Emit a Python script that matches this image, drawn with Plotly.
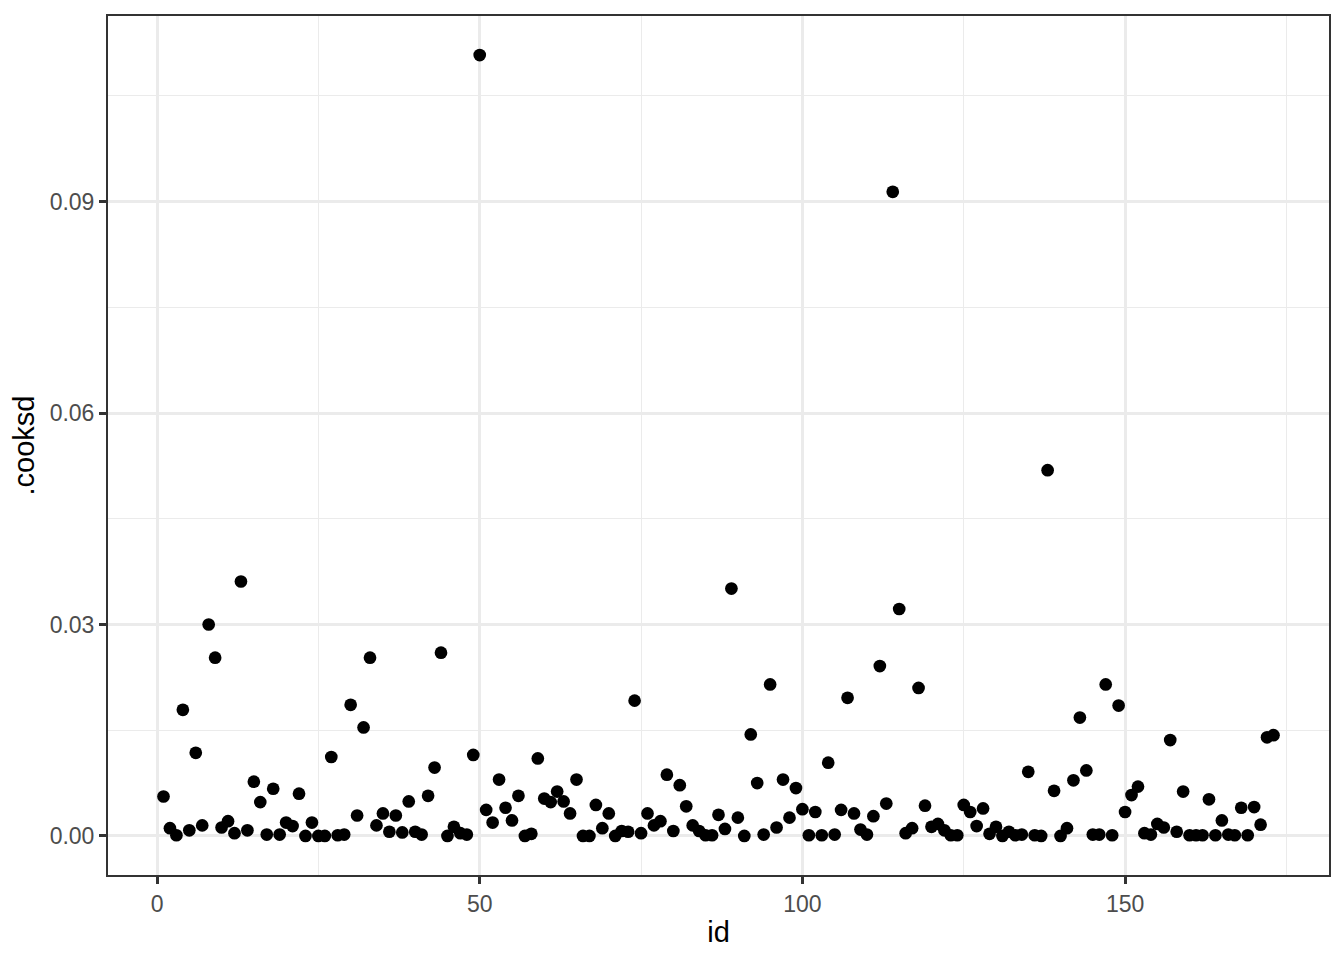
import plotly.graph_objects as go

ids = list(range(1, 174))
cooksd = [
    0.0056, 0.0011, 0.0001, 0.0179, 0.0008, 0.0118, 0.0015, 0.0300, 0.0253, 0.0012,
    0.0021, 0.0004, 0.0361, 0.0008, 0.0077, 0.0048, 0.0002, 0.0067, 0.0002, 0.0019,
    0.0014, 0.0060, 0.0000, 0.0019, 0.0000, 0.0000, 0.0112, 0.0001, 0.0002, 0.0186,
    0.0029, 0.0154, 0.0253, 0.0015, 0.0032, 0.0006, 0.0029, 0.0005, 0.0049, 0.0006,
    0.0002, 0.0057, 0.0097, 0.0260, 0.0000, 0.0013, 0.0004, 0.0002, 0.0115, 0.1108,
    0.0037, 0.0019, 0.0080, 0.0040, 0.0022, 0.0057, 0.0000, 0.0003, 0.0110, 0.0053,
    0.0048, 0.0063, 0.0049, 0.0032, 0.0080, 0.0000, 0.0000, 0.0044, 0.0011, 0.0032,
    0.0000, 0.0007, 0.0006, 0.0192, 0.0004, 0.0032, 0.0015, 0.0021, 0.0087, 0.0007,
    0.0072, 0.0042, 0.0015, 0.0007, 0.0001, 0.0001, 0.0030, 0.0010, 0.0351, 0.0026,
    0.0000, 0.0144, 0.0075, 0.0002, 0.0215, 0.0012, 0.0080, 0.0026, 0.0068, 0.0038,
    0.0001, 0.0034, 0.0001, 0.0104, 0.0002, 0.0037, 0.0196, 0.0032, 0.0009, 0.0002,
    0.0028, 0.0241, 0.0046, 0.0914, 0.0322, 0.0004, 0.0011, 0.0210, 0.0043, 0.0013,
    0.0017, 0.0008, 0.0001, 0.0001, 0.0044, 0.0034, 0.0014, 0.0039, 0.0003, 0.0013,
    0.0000, 0.0006, 0.0001, 0.0002, 0.0091, 0.0001, 0.0000, 0.0519, 0.0064, 0.0000,
    0.0011, 0.0079, 0.0168, 0.0093, 0.0002, 0.0002, 0.0215, 0.0001, 0.0185, 0.0034,
    0.0058, 0.0070, 0.0004, 0.0002, 0.0017, 0.0012, 0.0136, 0.0006, 0.0063, 0.0001,
    0.0001, 0.0001, 0.0052, 0.0001, 0.0022, 0.0002, 0.0001, 0.0040, 0.0001, 0.0041,
    0.0016, 0.0140, 0.0143,
]
x_ticks = [0, 50, 100, 150]
y_ticks = [0.00, 0.03, 0.06, 0.09]
y_tick_labels = ["0.00", "0.03", "0.06", "0.09"]

FONT = "Liberation Sans, Arial, Helvetica, sans-serif"

fig = go.Figure()
fig.add_trace(go.Scatter(
    x=ids, y=cooksd, mode="markers",
    marker=dict(color="black", size=12.7, line=dict(width=0)),
    showlegend=False, hoverinfo="x+y",
))

xr = [min(ids), max(ids)]
xpad = 0.05 * (xr[1] - xr[0])
yr = [min(cooksd), max(cooksd)]
ypad = 0.05 * (yr[1] - yr[0])

axis_common = dict(
    showline=True, mirror=True, linecolor="#333333", linewidth=2,
    showgrid=True, gridcolor="#EBEBEB", gridwidth=2.7,
    zeroline=False,
    ticks="outside", ticklen=7, tickwidth=2.7, tickcolor="#333333",
    tickfont=dict(family=FONT, size=23, color="#4D4D4D"),
)

fig.update_xaxes(
    range=[xr[0] - xpad, xr[1] + xpad],
    tickvals=x_ticks, ticktext=[str(v) for v in x_ticks],
    minor=dict(tickvals=[25, 75, 125, 175], showgrid=True, gridcolor="#EBEBEB", gridwidth=1.4, ticks=""),
    title=dict(text="id", font=dict(family=FONT, size=29, color="black"), standoff=6),
    **axis_common,
)
fig.update_yaxes(
    range=[yr[0] - ypad, yr[1] + ypad],
    tickvals=y_ticks, ticktext=y_tick_labels,
    minor=dict(tickvals=[0.015, 0.045, 0.075, 0.105], showgrid=True, gridcolor="#EBEBEB", gridwidth=1.4, ticks=""),
    title=dict(text=".cooksd", font=dict(family=FONT, size=29, color="black"), standoff=8),
    **axis_common,
)

# page body has an 8px margin; compensate so the panel sits at the reference position
fig.update_layout(
    width=1336, height=952,
    margin=dict(l=100, r=15, t=6, b=85),
    plot_bgcolor="white", paper_bgcolor="white",
    font=dict(family=FONT),
)

fig.write_html("out.html")
